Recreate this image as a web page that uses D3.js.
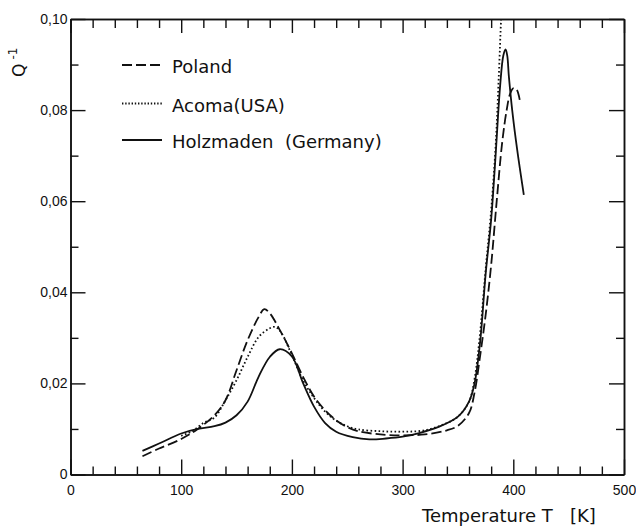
<!DOCTYPE html>
<html><head><meta charset="utf-8">
<script src="https://cdn.jsdelivr.net/npm/d3@7"></script>
<style>body{margin:0;background:#fff}svg{display:block}</style>
</head><body>
<script>
const seriesNames = ["Poland", "Acoma(USA)", "Holzmaden  (Germany)"];
const polandT = [65,80,100,115,130,140,150,160,170,175,180,190,200,210,220,230,240,250,260,280,300,320,340,350,360,365,370,375,380,385,390,394,397,400,403,406];
const polandQ = [0.0040,0.0057,0.0078,0.0100,0.0130,0.0163,0.0229,0.0295,0.0346,0.0363,0.0354,0.0313,0.0266,0.0215,0.0171,0.0141,0.0119,0.0104,0.0095,0.0088,0.0086,0.0088,0.0097,0.0107,0.0135,0.018,0.026,0.035,0.046,0.060,0.073,0.080,0.0835,0.0848,0.0845,0.082];
const acomaT = [100,110,120,130,140,150,160,170,180,185,190,200,210,220,230,240,250,260,280,300,320,340,350,360,365,370,375,380,384,387,389,390.5];
const acomaQ = [0.0085,0.0095,0.0113,0.0125,0.0163,0.0207,0.0258,0.0302,0.0321,0.0324,0.0313,0.0262,0.0207,0.0168,0.0138,0.0118,0.0106,0.0099,0.0095,0.0094,0.0097,0.0113,0.0127,0.016,0.021,0.031,0.045,0.058,0.072,0.088,0.100,0.106];
const holzT = [65,80,100,115,130,140,150,160,170,180,189,200,210,220,230,240,255,270,285,300,315,333,350,360,365,370,375,380,384,388,391,393,394.5,396,399,403.5,409.5];
const holzQ = [0.0052,0.0068,0.009,0.0100,0.0106,0.0114,0.0130,0.0160,0.0215,0.0258,0.0275,0.0259,0.0201,0.0149,0.0113,0.0094,0.0082,0.0077,0.0079,0.0083,0.0091,0.0105,0.0127,0.016,0.020,0.029,0.044,0.056,0.070,0.085,0.092,0.0933,0.0920,0.0874,0.080,0.0713,0.0614];
const xMajor = [0,100,200,300,400,500];
const xMinor = [20,40,60,80,120,140,160,180,220,240,260,280,320,340,360,380,420,440,460,480];
const yMajor = [0,0.02,0.04,0.06,0.08,0.10];
const yMinor = [0.01,0.03,0.05,0.07,0.09];
const yLabels = ["0","0,02","0,04","0,06","0,08","0,10"];

const W=636,H=526;
const svg=d3.select("body").append("svg").attr("width",W).attr("height",H);
const x=d3.scaleLinear([0,500],[70.5,624]);
const y=d3.scaleLinear([0,0.10],[474.5,19]);
const font="'DejaVu Sans', sans-serif";
const numFont="'Liberation Sans', Arial, sans-serif";

svg.append("clipPath").attr("id","clip").append("rect")
  .attr("x",x(0)).attr("y",y(0.10)).attr("width",x(500)-x(0)).attr("height",y(0)-y(0.10));

function styleAxis(g){g.selectAll("path").attr("stroke","#111").attr("stroke-width",1.5);
  g.selectAll("line").attr("stroke","#111").attr("stroke-width",1.4);}

// bottom
svg.append("g").attr("transform",`translate(0,${y(0)})`)
  .call(d3.axisBottom(x).tickValues(xMajor).tickSize(-15).tickSizeOuter(0).tickPadding(0).tickFormat(d=>d))
  .call(styleAxis).call(g=>g.selectAll("text").attr("font-family",numFont).attr("font-size",14).attr("fill","#111").attr("dy","1.45em"));
svg.append("g").attr("transform",`translate(0,${y(0)})`)
  .call(d3.axisBottom(x).tickValues(xMinor).tickSize(-8).tickSizeOuter(0).tickFormat(""))
  .call(styleAxis);
// top
svg.append("g").attr("transform",`translate(0,${y(0.10)})`)
  .call(d3.axisTop(x).tickValues(xMajor).tickSize(-14).tickSizeOuter(0).tickFormat(""))
  .call(styleAxis);
svg.append("g").attr("transform",`translate(0,${y(0.10)})`)
  .call(d3.axisTop(x).tickValues(xMinor).tickSize(-9).tickSizeOuter(0).tickFormat(""))
  .call(styleAxis);
// left
svg.append("g").attr("transform",`translate(${x(0)},0)`)
  .call(d3.axisLeft(y).tickValues(yMajor).tickSize(-15).tickSizeOuter(0).tickPadding(3).tickFormat((d,i)=>yLabels[i]))
  .call(styleAxis).call(g=>g.selectAll("text").attr("font-family",numFont).attr("font-size",14).attr("fill","#111"));
svg.append("g").attr("transform",`translate(${x(0)},0)`)
  .call(d3.axisLeft(y).tickValues(yMinor).tickSize(-8).tickSizeOuter(0).tickFormat(""))
  .call(styleAxis);
// right
svg.append("g").attr("transform",`translate(${x(500)},0)`)
  .call(d3.axisRight(y).tickValues(yMajor).tickSize(-15).tickSizeOuter(0).tickFormat(""))
  .call(styleAxis);
svg.append("g").attr("transform",`translate(${x(500)},0)`)
  .call(d3.axisRight(y).tickValues(yMinor).tickSize(-8).tickSizeOuter(0).tickFormat(""))
  .call(styleAxis);

const line=d3.line().x(d=>x(d[0])).y(d=>y(d[1])).curve(d3.curveCatmullRom.alpha(0.5));
const series=[
  {T:polandT,Q:polandQ,dash:"10,4"},
  {T:acomaT,Q:acomaQ,dash:"1.6,2.4"},
  {T:holzT,Q:holzQ,dash:null}
];
const plot=svg.append("g").attr("clip-path","url(#clip)");
series.forEach(s=>{
  plot.append("path").datum(s.T.map((t,i)=>[t,s.Q[i]]))
    .attr("d",line).attr("fill","none").attr("stroke","#111")
    .attr("stroke-width",1.8).attr("stroke-dasharray",s.dash);
});

// legend
const legY=[65,103.5,140];
const legBase=[73,111.5,148];
const legDash=["10,4","1.4,1.8",null];
series.forEach((s,i)=>{
  svg.append("line").attr("x1",122).attr("x2",162).attr("y1",legY[i]).attr("y2",legY[i])
    .attr("stroke","#111").attr("stroke-width",1.8).attr("stroke-dasharray",legDash[i]);
  svg.append("text").attr("x",172).attr("y",legBase[i]).attr("font-family",font)
    .attr("font-size",18).attr("fill","#111").style("white-space","pre").text(seriesNames[i]);
});

// axis titles
svg.append("text").attr("x",422).attr("y",522).attr("font-family",font).attr("font-size",18).attr("fill","#111")
  .style("white-space","pre").text("Temperature T   [K]");
const yt=svg.append("text").attr("transform","translate(25,77) rotate(-90)").attr("font-family",font).attr("font-size",17).attr("fill","#111");
yt.append("tspan").text("Q");
yt.append("tspan").attr("dx",4).attr("dy",-8).attr("font-size",12).text("-1");
</script>
</body></html>
